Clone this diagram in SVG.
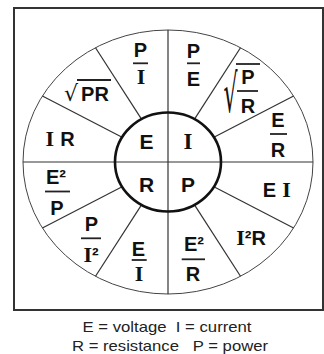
<svg xmlns="http://www.w3.org/2000/svg" width="324" height="354" viewBox="0 0 324 354">
<style>
.t{font-family:"Liberation Sans",Arial,sans-serif;font-weight:bold;font-size:20px;fill:#111;text-anchor:middle}
.s{font-family:"Liberation Serif","Times New Roman",serif;font-weight:bold;font-size:22px}
.h{font-size:21px}
.hs{font-size:23px}
.bar{stroke:#222;stroke-width:1.8}
.sp{stroke:#333;stroke-width:1.2;fill:none}
.rad{font-family:"DejaVu Sans",sans-serif;font-weight:normal;font-size:22px;fill:#111;text-anchor:end}
.cap{font-family:"Liberation Sans",Arial,sans-serif;font-size:15px;fill:#222;text-anchor:middle;white-space:pre}
</style>
<rect width="324" height="354" fill="#fff"/>
<rect id="frame" x="14" y="8" width="309" height="302" fill="#fff" stroke="#333" stroke-width="2"/>
<g id="wheel">
<ellipse cx="168" cy="162" rx="145" ry="132" fill="none" stroke="#444" stroke-width="1"/>
</g>
<g id="connectors" class="sp">
<line x1="168" y1="30" x2="168" y2="294"/>
<line x1="23" y1="162" x2="313" y2="162"/>
<line x1="213.9" y1="137.25" x2="293.6" y2="96"/>
<line x1="194.5" y1="119.1" x2="240.5" y2="47.7"/>
<line x1="141.5" y1="119.1" x2="95.5" y2="47.7"/>
<line x1="122.1" y1="137.25" x2="42.4" y2="96"/>
<line x1="122.1" y1="186.75" x2="42.4" y2="228"/>
<line x1="141.5" y1="204.9" x2="95.5" y2="276.3"/>
<line x1="194.5" y1="204.9" x2="240.5" y2="276.3"/>
<line x1="213.9" y1="186.75" x2="293.6" y2="228"/>
</g>
<g id="hub">
<ellipse cx="168" cy="162" rx="53" ry="49.5" fill="none" stroke="#111" stroke-width="2.6"/>
<g id="hub-E"><text class="t h" x="146.5" y="149">E</text></g>
<g id="hub-I"><text class="t s hs" x="188" y="149">I</text></g>
<g id="hub-R"><text class="t h" x="146.5" y="192">R</text></g>
<g id="hub-P"><text class="t h" x="188" y="192">P</text></g>
</g>
<g id="n-P-I">
<text class="t" x="140.5" y="57.2">P</text>
<line class="bar" x1="133" y1="63.3" x2="148" y2="63.3"/>
<text class="t s" x="141" y="84.3">I</text>
</g>
<g id="n-P-E">
<text class="t" x="193.5" y="58.2">P</text>
<line class="bar" x1="187" y1="63.3" x2="200" y2="63.3"/>
<text class="t" x="193.5" y="86">E</text>
</g>
<g id="n-sqrt-P-R">
<text class="rad" transform="translate(237.5,112) scale(1,2.4)" x="0" y="0">√</text>
<line class="bar" x1="236" y1="64" x2="260" y2="64"/>
<text class="t" x="248" y="84">P</text>
<line class="bar" x1="237" y1="91" x2="258" y2="91"/>
<text class="t" x="248" y="113">R</text>
</g>
<g id="n-E-R">
<text class="t" x="278" y="127">E</text>
<line class="bar" x1="270" y1="134" x2="287" y2="134"/>
<text class="t" x="278" y="157">R</text>
</g>
<g id="n-sqrt-PR">
<text class="rad" x="78" y="101">√</text>
<line class="bar" x1="77" y1="80" x2="111" y2="80"/>
<text class="t" x="95" y="101">PR</text>
</g>
<g id="n-IR">
<text class="t" x="60.5" y="146"><tspan class="s" x="49.7">I</tspan><tspan x="67.5">R</tspan></text>
</g>
<g id="n-E2-P">
<text class="t" x="56" y="184">E²</text>
<line class="bar" x1="45" y1="191.5" x2="70" y2="191.5"/>
<text class="t" x="57" y="214.7">P</text>
</g>
<g id="n-P-I2">
<text class="t" x="91.5" y="230.5">P</text>
<line class="bar" x1="81" y1="238.3" x2="101" y2="238.3"/>
<text class="t" x="91" y="262"><tspan class="s">I</tspan>²</text>
</g>
<g id="n-E-I">
<text class="t" x="138.5" y="255.5">E</text>
<line class="bar" x1="131.7" y1="260" x2="146.7" y2="260"/>
<text class="t s" x="139" y="280.5">I</text>
</g>
<g id="n-E2-R">
<text class="t" x="194" y="251">E²</text>
<line class="bar" x1="181.7" y1="259.3" x2="205" y2="259.3"/>
<text class="t" x="193" y="280.5">R</text>
</g>
<g id="n-I2R">
<text class="t" x="251" y="245"><tspan class="s">I</tspan>²R</text>
</g>
<g id="n-EI">
<text class="t" x="277" y="197"><tspan x="269.5">E</tspan><tspan class="s" x="286.5">I</tspan></text>
</g>
<g id="legend">
<text class="cap" x="167" y="331.5" textLength="169" lengthAdjust="spacingAndGlyphs">E = voltage  I = current</text>
<text class="cap" x="170" y="351" textLength="196" lengthAdjust="spacingAndGlyphs">R = resistance   P = power</text>
</g>
</svg>
